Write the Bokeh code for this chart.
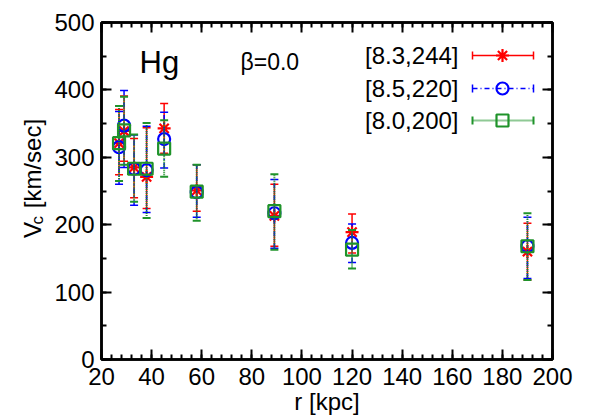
import math
from bokeh.plotting import figure
from bokeh.layouts import row
from bokeh.models import (Range1d, LinearAxis, Label, SingleIntervalTicker, ColumnDataSource,
                          CustomJSTickFormatter)
from bokeh.embed import file_html
from bokeh.resources import INLINE

# ---- data ----
r = [27, 29, 33, 38, 45, 58, 89, 120, 190]

red_v  = [321, 339, 285, 271, 343, 251, 213, 189, 160]
red_lo = [274, 294, 240, 224, 306, 220, 168, 158, 118]
red_hi = [371, 391, 328, 344, 380, 289, 260, 216, 202]

blue_v  = [315, 347, 283, 281, 327, 248, 217, 173, 168]
blue_lo = [260, 285, 229, 218, 284, 211, 165, 144, 120]
blue_hi = [368, 399, 333, 346, 367, 289, 267, 201, 211]

green_v  = [321, 340, 283, 283, 313, 249, 220, 163, 168]
green_lo = [265, 289, 234, 210, 271, 206, 163, 135, 118]
green_hi = [376, 390, 334, 351, 355, 289, 275, 192, 217]

series_labels = ["[8.3,244]", "[8.5,220]", "[8.0,200]"]
x_tick_interval = 20
y_tick_interval = 100

FONT = "Liberation Sans"
GREEN = "#1f932a"

# ---- layout (page pixels; bokeh page has no body margin) ----
PAGE_W, PAGE_H = 598, 419
LW = 48                       # width of the narrow y-label strip
W = PAGE_W - LW
FRAME_L, FRAME_R, FRAME_T, FRAME_B = 101, 552, 22, 359
ML, MR, MT, MB = FRAME_L - LW, PAGE_W - FRAME_R, FRAME_T, PAGE_H - FRAME_B
XMIN, XMAX, YMIN, YMAX = 20, 200, 0, 500

def px2x(px):
    return XMIN + (px - FRAME_L) * (XMAX - XMIN) / (FRAME_R - FRAME_L)

def py2y(py):
    return YMIN + (FRAME_B - py) * (YMAX - YMIN) / (FRAME_B - FRAME_T)

p = figure(width=W, height=PAGE_H, x_range=Range1d(XMIN, XMAX), y_range=Range1d(YMIN, YMAX),
           output_backend="svg", toolbar_location=None,
           min_border_left=ML, min_border_right=MR, min_border_top=MT, min_border_bottom=MB)
p.grid.visible = False
p.outline_line_color = "black"
p.outline_line_width = 2.5
p.background_fill_color = "white"
p.border_fill_color = "white"

xt = SingleIntervalTicker(interval=x_tick_interval, num_minor_ticks=5)
yt = SingleIntervalTicker(interval=y_tick_interval, num_minor_ticks=2)

def style_axis(ax, show_labels=True):
    ax.axis_line_width = 2.5
    ax.axis_line_color = "black"
    ax.major_tick_in = 10
    ax.major_tick_out = 0
    ax.minor_tick_in = 5
    ax.minor_tick_out = 0
    ax.major_tick_line_width = 2
    ax.minor_tick_line_width = 2
    ax.major_tick_line_color = "black"
    ax.minor_tick_line_color = "black"
    ax.major_label_text_font = FONT
    ax.major_label_text_color = "black"
    ax.major_label_text_font_size = "24px"
    if not show_labels:
        ax.formatter = CustomJSTickFormatter(code="return ''")
        ax.major_label_standoff = 0

p.xaxis.ticker = xt
p.yaxis.ticker = yt
style_axis(p.xaxis[0])
style_axis(p.yaxis[0])
p.xaxis.major_label_standoff = 8
p.yaxis.major_label_standoff = 7
p.xaxis.axis_label = "r [kpc]"
p.xaxis.axis_label_text_font = FONT
p.xaxis.axis_label_text_font_size = "24px"
p.xaxis.axis_label_text_font_style = "normal"
p.xaxis.axis_label_text_color = "black"
p.xaxis.axis_label_standoff = 0

top = LinearAxis(ticker=xt)
style_axis(top, False)
p.add_layout(top, "above")
right = LinearAxis(ticker=yt)
style_axis(right, False)
p.add_layout(right, "right")

# ---- series ----
specs = [
    (red_v, red_lo, red_hi, "red", "solid", "asterisk", 13, 1.5),
    (blue_v, blue_lo, blue_hi, "blue", "5 3 1 3", "circle", 12, 1.5),
    (green_v, green_lo, green_hi, GREEN, "1 1", "square", 12, 2.0),
]
for v, lo, hi, col, dash, mk, ms, lw in specs:
    src = ColumnDataSource(dict(x=r, v=v, lo=lo, hi=hi))
    p.segment(x0="x", y0="lo", x1="x", y1="hi", source=src, line_color=col,
              line_width=lw, line_dash=dash)
    p.scatter(x="x", y="lo", source=src, marker="dash", size=8, line_color=col, line_width=lw)
    p.scatter(x="x", y="hi", source=src, marker="dash", size=8, line_color=col, line_width=lw)
    p.scatter(x="x", y="v", source=src, marker=mk, size=ms, line_color=col,
              fill_color=None, line_width=2.2)

# ---- legend (text on the left, sample on the right) ----
leg_rows = [55, 88, 120]
for (v, lo, hi, col, dash, mk, ms, lw), lab, rw in zip(specs, series_labels, leg_rows):
    yy = py2y(rw)
    x0, x1, xm = px2x(472), px2x(533), px2x(502)
    p.segment(x0=[x0], y0=[yy], x1=[x1], y1=[yy], line_color=col, line_width=lw, line_dash=dash)
    p.scatter(x=[x0, x1], y=[yy, yy], marker="dash", size=8, angle=math.pi / 2,
              line_color=col, line_width=lw)
    p.scatter(x=[xm], y=[yy], marker=mk, size=ms, line_color=col, fill_color=None, line_width=2.2)
    p.add_layout(Label(x=px2x(458), y=yy, text=lab, text_align="right", text_baseline="middle",
                       text_font=FONT, text_font_size="24px", text_color="black"))

# ---- annotations ----
p.add_layout(Label(x=px2x(139), y=py2y(62), text="Hg", text_align="left",
                   text_baseline="alphabetic", text_font=FONT, text_font_size="31px",
                   text_color="black"))
p.add_layout(Label(x=px2x(240), y=py2y(61), text="β=0.0", text_align="left",
                   text_baseline="alphabetic", text_font=FONT, text_font_size="23px",
                   text_color="black"))

# ---- y-axis title strip: V_c [km/sec] ----
lab_fig = figure(width=LW, height=PAGE_H, x_range=Range1d(0, LW), y_range=Range1d(0, PAGE_H),
                 output_backend="svg", toolbar_location=None, min_border=0)
lab_fig.axis.visible = False
lab_fig.grid.visible = False
lab_fig.outline_line_color = None
lab_fig.background_fill_color = "white"
lab_fig.border_fill_color = "white"

ylab_parts = [("V", 32, 268, "24px"), ("c", 37, 251, "17px"), ("[km/sec]", 32, 231, "24px")]
for txt, lx, ly, fs in ylab_parts:
    lab_fig.add_layout(Label(x=lx, y=PAGE_H - ly, text=txt, angle=math.pi / 2,
                             text_align="left", text_baseline="alphabetic",
                             text_font=FONT, text_font_size=fs, text_color="black"))

layout = row(lab_fig, p)
open("out.html", "w").write(file_html(layout, INLINE))
